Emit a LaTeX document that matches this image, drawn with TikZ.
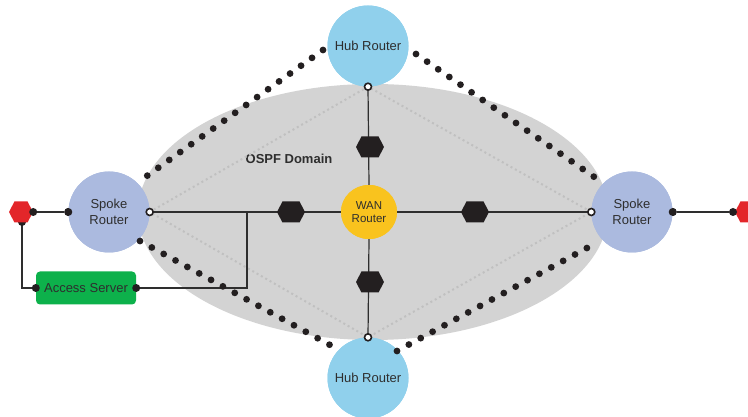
\documentclass[tikz,border=0pt]{standalone}
\usepackage{fontspec}
\setmainfont{Liberation Sans}
\usetikzlibrary{shapes.symbols,shapes.geometric,calc}
\definecolor{hubblue}{HTML}{90D0EC}
\definecolor{spokeblue}{HTML}{ABBADF}
\definecolor{wanyellow}{HTML}{F9C31E}
\definecolor{hexred}{HTML}{E3262A}
\definecolor{asgreen}{HTML}{0DB14B}
\definecolor{domgray}{HTML}{D3D3D3}
\definecolor{inkblack}{HTML}{231F20}
\definecolor{txt}{HTML}{2E2E2E}
\definecolor{faintdot}{HTML}{C0C0C0}
\begin{document}
\begin{tikzpicture}[x=1pt,y=1pt,
 router/.style={circle, minimum size=81pt, inner sep=0pt, text=txt, font=\fontsize{13}{16}\selectfont, align=center},
 hubrouter/.style={router, fill=hubblue},
 spokerouter/.style={router, fill=spokeblue},
 wanrouter/.style={ellipse, fill=wanyellow, minimum width=56pt, minimum height=54pt, inner sep=0pt, text=txt, font=\fontsize{11.5}{13.5}\selectfont, align=center},
 hexnode/.style={signal, signal to=east and west, signal pointer angle=125, inner sep=0pt, minimum width=28pt, minimum height=21pt, fill=inkblack},
 redhex/.style={hexnode, fill=hexred, minimum width=24pt},
 bigdot/.style={circle, fill=inkblack, inner sep=0pt, minimum size=8pt},
 opendot/.style={circle, draw=inkblack, fill=white, line width=1.6pt, inner sep=0pt, minimum size=7pt},
 link/.style={draw=txt, line width=1.2pt},
 chain/.style={draw=inkblack, line width=6.8pt, line cap=round, dash pattern=on 0pt off 13.5pt},
 faint/.style={draw=faintdot, line width=2pt, dash pattern=on 2pt off 3pt}
]
\useasboundingbox (0,0) rectangle (748,417);

% domain
\fill[domgray] (373,205) ellipse [x radius=235, y radius=128];
\node[font=\bfseries\fontsize{13}{16}\selectfont, text=txt] (ospf) at (289,258) {OSPF Domain};

% router positions
\path (368,371) node[hubrouter] (hubT) {};
\path (368,39) node[hubrouter] (hubB) {};
\path (109,205) node[spokerouter] (spokeL) {};
\path (632,205) node[spokerouter] (spokeR) {};

% faint diamond
\draw[faint] (hubT.south) -- (spokeL.east) -- (hubB.north) -- (spokeR.west) -- cycle;

% WAN links
\node[wanrouter] (wan) at (369,205) {};
\path[link] (hubT.south) -- (wan.north);
\path[link] (wan.south) -- (hubB.north);
\path[link] (spokeL.east) -- (wan.west);
\path[link] (wan.east) -- (spokeR.west);

% access server
\node[rounded corners=4pt, fill=asgreen, minimum width=100pt, minimum height=33pt, inner sep=0pt, text=txt, font=\fontsize{13}{16}\selectfont] (as) at (86,129) {Access Server};
\coordinate (junc) at (247,205);
\path[link] (as.east) -| (junc);

% left red hex
\coordinate (hexLbot) at (22,195);
\path[link] (hexLbot) |- (as.west);
\node[bigdot] (dLb) at (hexLbot) {};
\node[redhex] (hexL) at (21,205) {};
\node[bigdot] (dLr) at (hexL.east) {};
\node[bigdot] (dLs) at (spokeL.west) {};
\path[link] (dLr) -- (dLs);
\node[bigdot] (dAw) at (as.west) {};
\node[bigdot] (dAe) at (as.east) {};

% right red hex
\node[redhex] (hexR) at (747,205) {};
\node[bigdot] (dRs) at (spokeR.east) {};
\node[bigdot] (dRh) at (733,205) {};
\path[link] (dRs) -- (dRh);

% hexagons on WAN links
\node[hexnode] (hx1) at (291,205) {};
\node[hexnode] (hx2) at (475,205) {};
\node[hexnode] (hx3) at (370,270) {};
\node[hexnode] (hx4) at (370,135) {};

% routers with text on top
\node[hubrouter] at (hubT) {Hub Router};
\node[hubrouter] at (hubB) {Hub Router};
\node[spokerouter] at (spokeL) {Spoke\\Router};
\node[spokerouter] at (spokeR) {Spoke\\Router};
\node[wanrouter] at (wan) {WAN\\Router};

% open connector dots
\node[opendot] (oT) at (hubT.south) {};
\node[opendot] (oB) at (hubB.north) {};
\node[opendot] (oL) at (spokeL.east) {};
\node[opendot] (oR) at (spokeR.west) {};
\node[bigdot] at (spokeL.west) {};
\node[bigdot] at (spokeR.east) {};

% dotted chains
\coordinate (cUL1) at (323,367); \coordinate (cUL2) at (137,234);
\coordinate (cUR1) at (416,363); \coordinate (cUR2) at (603,234);
\coordinate (cLL1) at (140,176); \coordinate (cLL2) at (341,66);
\coordinate (cLR1) at (397,66);  \coordinate (cLR2) at (598,175);
\path[chain] (cUL1) -- (cUL2);
\path[chain] (cUR1) -- (cUR2);
\path[chain] (cLL1) -- (cLL2);
\path[chain] (cLR1) -- (cLR2);
\end{tikzpicture}
\end{document}
